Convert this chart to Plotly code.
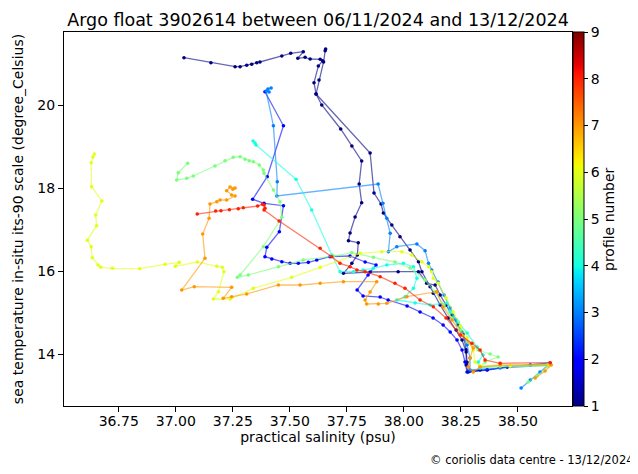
import numpy as np
import plotly.graph_objects as go

# ---------------- data ----------------
sal_p1a = [37.036, 37.154, 37.260, 37.282, 37.311, 37.333, 37.355, 37.369, 37.465, 37.504,
           37.559, 37.535, 37.567, 37.589, 37.633, 37.644, 37.625, 37.606, 37.615, 37.640,
           37.723, 37.772, 37.815, 37.804, 37.815, 37.786, 37.764, 37.757, 37.800, 37.796,
           37.772, 37.735, 37.852, 37.975, 38.064, 38.100, 38.137, 38.159, 38.185, 38.211,
           38.238, 38.260, 38.273, 38.277, 38.290, 38.365, 38.453]
temp_p1a = [21.140, 21.019, 20.923, 20.923, 20.957, 20.981, 21.019, 21.036, 21.181, 21.246,
            21.284, 21.125, 21.149, 21.108, 21.101, 21.067, 20.940, 20.537, 20.265, 20.000,
            19.422, 19.012, 18.651, 18.096, 17.646, 17.301, 16.916, 16.730, 16.682, 16.386,
            16.185, 15.944, 15.976, 15.983, 15.983, 15.704, 15.663, 15.422, 15.181, 14.940,
            14.699, 14.482, 14.100, 13.800, 13.590, 13.620, 13.690]

sal_p1b = [37.657, 37.655, 37.648, 37.628, 37.615, 37.852, 37.869, 37.900, 37.910, 37.947,
           37.983, 38.027, 38.064, 38.079, 38.115, 38.129, 38.159, 38.194, 38.229, 38.255,
           38.273, 38.273, 38.282, 38.334]
temp_p1b = [21.350, 21.308, 21.036, 20.602, 20.265, 18.843, 17.879, 17.614, 17.398, 17.108,
            16.827, 16.506, 16.224, 15.983, 15.622, 15.463, 15.181, 14.868, 14.578, 14.337,
            14.048, 13.735, 13.566, 13.614]

sal_p2 = [37.391, 37.472, 37.401, 37.337, 37.387, 37.472, 37.454, 37.399, 37.391, 37.421,
          37.465, 37.501, 37.537, 37.581, 37.618, 37.676, 37.764, 37.830, 37.878, 37.843,
          37.795, 37.821, 37.896, 37.931, 38.014, 38.071, 38.128, 38.172, 38.203, 38.233,
          38.255, 38.268, 38.277, 38.365, 38.453, 38.554, 38.641]
temp_p2 = [20.320, 19.501, 18.272, 17.728, 17.631, 17.573, 16.947, 16.571, 16.345, 16.289,
           16.224, 16.185, 16.185, 16.209, 16.265, 16.345, 16.361, 16.217, 16.145, 15.904,
           15.542, 15.398, 15.373, 15.301, 15.157, 15.012, 14.867, 14.699, 14.530, 14.337,
           14.096, 13.807, 13.566, 13.614, 13.687, 13.735, 13.783]

sal_p3 = [37.418, 37.404, 37.409, 37.396, 37.428, 37.445, 37.443, 37.887, 37.908, 37.925,
          37.940, 37.932, 37.969, 38.057, 38.093, 38.108, 38.122, 38.150, 38.176, 38.203,
          38.229, 38.255, 38.277, 38.290, 38.290, 38.422, 38.633, 38.597, 38.554, 38.514]
temp_p3 = [20.410, 20.385, 20.313, 20.337, 19.501, 18.152, 17.807, 18.096, 17.631, 17.270,
           16.908, 16.465, 16.586, 16.651, 16.489, 16.185, 16.024, 15.735, 15.422, 15.108,
           14.819, 14.530, 14.217, 13.904, 13.614, 13.663, 13.735, 13.566, 13.373, 13.181]

sal_p4 = [37.339, 37.347, 37.352, 37.527, 37.596, 37.684, 37.720, 37.779, 37.822, 37.866,
          37.925, 37.998, 38.042, 38.057, 38.042, 38.005, 37.969, 38.049, 38.115, 38.190,
          38.203, 38.238, 38.277, 38.321, 38.347, 38.326, 38.334, 38.422, 38.633]
temp_p4 = [19.132, 19.084, 19.036, 18.210, 17.470, 16.386, 15.983, 15.983, 16.024, 16.065,
           16.145, 16.185, 16.104, 15.824, 15.583, 15.381, 15.301, 15.229, 15.181, 15.229,
           15.012, 14.771, 14.506, 14.169, 13.976, 13.807, 13.663, 13.711, 13.759]

sal_p5 = [37.052, 37.011, 37.004, 37.048, 37.077, 37.172, 37.216, 37.252, 37.282, 37.304,
          37.322, 37.340, 37.366, 37.384, 37.387, 37.428, 37.457, 37.465, 37.384, 37.282,
          37.270, 37.318, 37.450, 37.559, 37.691, 37.772, 37.866, 37.961, 38.027, 38.093,
          38.137, 38.176, 38.211, 38.247, 38.282, 38.326, 38.378, 38.413, 38.356, 38.334,
          38.422, 38.633, 38.584, 38.545]
temp_p5 = [18.595, 18.369, 18.193, 18.234, 18.289, 18.530, 18.658, 18.740, 18.754, 18.692,
           18.658, 18.634, 18.554, 18.434, 18.354, 17.952, 17.670, 17.294, 16.586, 15.904,
           15.848, 15.904, 16.104, 16.265, 16.361, 16.441, 16.330, 16.217, 16.072, 15.783,
           15.494, 15.181, 14.868, 14.578, 14.289, 14.096, 14.000, 13.928, 13.807, 13.687,
           13.711, 13.711, 13.470, 13.325]

sal_p6 = [36.643, 36.637, 36.629, 36.631, 36.676, 36.649, 36.653, 36.612, 36.629, 36.634,
          36.659, 36.671, 36.722, 36.842, 36.953, 37.015, 36.998, 37.094, 37.180, 37.204,
          37.211, 37.187, 37.165, 37.238, 37.340, 37.508, 37.633, 37.808, 37.903, 37.991,
          38.035, 38.079, 38.108, 38.122, 38.129, 38.151, 38.185, 38.216, 38.247, 38.277,
          38.304, 38.312, 38.334, 38.466, 38.633]
temp_p6 = [18.819, 18.747, 18.610, 18.031, 17.687, 17.349, 17.091, 16.740, 16.586, 16.320,
           16.145, 16.089, 16.065, 16.055, 16.161, 16.209, 16.113, 16.217, 16.113, 16.089,
           15.983, 15.501, 15.325, 15.325, 15.583, 15.848, 16.087, 16.427, 16.465, 16.465,
           16.386, 16.224, 16.104, 15.983, 15.824, 15.704, 15.349, 15.012, 14.675, 14.386,
           14.096, 13.807, 13.711, 13.711, 13.735]

sal_p7 = [37.250, 37.260, 37.238, 37.223, 37.245, 37.260, 37.223, 37.194, 37.180, 37.150,
          37.146, 37.118, 37.128, 37.026, 37.081, 37.245, 37.208, 37.245, 37.311, 37.450,
          37.545, 37.633, 37.735, 37.881, 37.852, 37.830, 37.837, 37.888, 37.925, 38.013,
          38.144, 38.172, 38.211, 38.255, 38.304, 38.290, 38.282, 38.304, 38.334, 38.422,
          38.646, 38.619, 38.576]
temp_p7 = [17.969, 18.000, 18.024, 17.935, 17.831, 17.807, 17.711, 17.711, 17.670, 17.614,
           17.270, 16.892, 16.306, 15.542, 15.622, 15.607, 15.342, 15.381, 15.446, 15.663,
           15.663, 15.704, 15.742, 15.742, 15.494, 15.301, 15.205, 15.205, 15.222, 15.381,
           15.501, 15.133, 14.819, 14.458, 14.145, 13.904, 13.687, 13.566, 13.687, 13.735,
           13.735, 13.590, 13.422]

sal_p8 = [37.094, 37.175, 37.198, 37.235, 37.274, 37.296, 37.359, 37.380, 37.387, 37.391,
          37.387, 37.453, 37.633, 37.684, 37.720, 37.764, 37.794, 37.830, 37.896, 37.961,
          38.005, 38.071, 38.129, 38.185, 38.247, 38.298, 38.334, 38.356, 38.422, 38.641]
temp_p8 = [17.373, 17.446, 17.453, 17.477, 17.501, 17.525, 17.566, 17.610, 17.590, 17.511,
           17.470, 17.205, 16.547, 16.345, 16.185, 16.104, 16.024, 15.983, 15.863, 15.704,
           15.583, 15.301, 15.140, 14.868, 14.458, 14.258, 14.096, 13.855, 13.776, 13.790]

profile_numbers = [1, 1, 2, 3, 4, 5, 6, 7, 8]
salinity_series = [sal_p1a, sal_p1b, sal_p2, sal_p3, sal_p4, sal_p5, sal_p6, sal_p7, sal_p8]
temperature_series = [temp_p1a, temp_p1b, temp_p2, temp_p3, temp_p4, temp_p5, temp_p6, temp_p7, temp_p8]

profile_min, profile_max = 1, 9
x_tick_values = [36.75, 37.00, 37.25, 37.50, 37.75, 38.00, 38.25, 38.50]
x_tick_labels = ["36.75", "37.00", "37.25", "37.50", "37.75", "38.00", "38.25", "38.50"]
y_tick_values = [14, 16, 18, 20]
y_tick_labels = ["14", "16", "18", "20"]
cbar_tick_values = [1, 2, 3, 4, 5, 6, 7, 8, 9]

title_text = "Argo float 3902614 between 06/11/2024 and 13/12/2024"
x_title = "practical salinity (psu)"
y_title = "sea temperature in-situ its-90 scale (degree_Celsius)"
cbar_title = "profile number"
credit_text = "© coriolis data centre - 13/12/2024"


# ---------------- matplotlib-like "jet" colormap ----------------
def jet(t):
    r = np.interp(t, [0, 0.35, 0.66, 0.89, 1], [0, 0, 1, 1, 0.5])
    g = np.interp(t, [0, 0.125, 0.375, 0.64, 0.91, 1], [0, 0, 1, 1, 0, 0])
    b = np.interp(t, [0, 0.11, 0.34, 0.65, 1], [0.5, 1, 1, 0, 0])
    return r, g, b


def rgba(t, a=1.0):
    r, g, b = jet(t)
    return "rgba(%d,%d,%d,%.2f)" % (round(r * 255), round(g * 255), round(b * 255), a)


stops = np.linspace(0, 1, 65)
jet_scale = [[float(s), rgba(s)] for s in stops]

# page body has an 8 px margin: the figure is sized/placed to compensate
W, H = 630, 466
L, R, T, B = 56, 66, 24, 68
plot_w = W - L - R
plot_h = H - T - B

fig = go.Figure()
n = len(profile_numbers)
for i, (p, sx, ty) in enumerate(zip(profile_numbers, salinity_series, temperature_series)):
    t = (p - profile_min) / (profile_max - profile_min)
    last = i == n - 1
    marker = dict(
        size=3.6,
        color=[p] * len(sx),
        colorscale=jet_scale,
        cmin=profile_min,
        cmax=profile_max,
        line=dict(width=0),
        showscale=last,
    )
    if last:
        marker["colorbar"] = dict(
            x=1.0, xref="paper", xanchor="left", xpad=1,
            y=0.5, yanchor="middle", ypad=0,
            len=1.0, lenmode="fraction", thickness=11,
            outlinewidth=1, outlinecolor="black",
            tickvals=cbar_tick_values, ticks="outside", ticklen=4,
            tickcolor="black", tickfont=dict(size=14, color="black"),
        )
    fig.add_trace(go.Scatter(
        x=sx, y=ty, mode="lines+markers",
        line=dict(color=rgba(t, 0.6), width=1.3),
        marker=marker,
        hoverinfo="skip",
    ))

axis_common = dict(
    ticks="outside", ticklen=5, tickwidth=1, tickcolor="black",
    showline=True, linecolor="black", linewidth=1, mirror=True,
    showgrid=False, zeroline=False, automargin=False,
    tickfont=dict(size=14, color="black"),
)

fig.update_layout(
    width=W, height=H,
    margin=dict(l=L, r=R, t=T, b=B),
    paper_bgcolor="white", plot_bgcolor="white",
    font=dict(family="DejaVu Sans", size=14, color="black"),
    showlegend=False,
    title=dict(text=title_text, x=0.5, xref="paper", xanchor="center",
               y=1 - 12 / H, yref="container", yanchor="middle",
               font=dict(size=17.5, color="black")),
    xaxis=dict(range=[36.51, 38.737], tickvals=x_tick_values, ticktext=x_tick_labels,
               ticklabelstandoff=-3,
               title=dict(text=x_title, standoff=4, font=dict(size=14)), **axis_common),
    yaxis=dict(range=[12.747, 21.759], tickvals=y_tick_values, ticktext=y_tick_labels,
               title=dict(text=y_title, standoff=10, font=dict(size=14)), **axis_common),
    annotations=[
        dict(text=credit_text, xref="paper", yref="paper",
             x=(628 - L) / plot_w, y=-(452 - (T + plot_h)) / plot_h,
             xanchor="right", yanchor="middle", showarrow=False,
             font=dict(size=11.5, color="black")),
        dict(text=cbar_title, xref="paper", yref="paper",
             x=(601 - L) / plot_w, y=0.5, textangle=-90,
             xanchor="center", yanchor="middle", showarrow=False,
             font=dict(size=14, color="black")),
    ],
)

fig.write_html("out.html")
